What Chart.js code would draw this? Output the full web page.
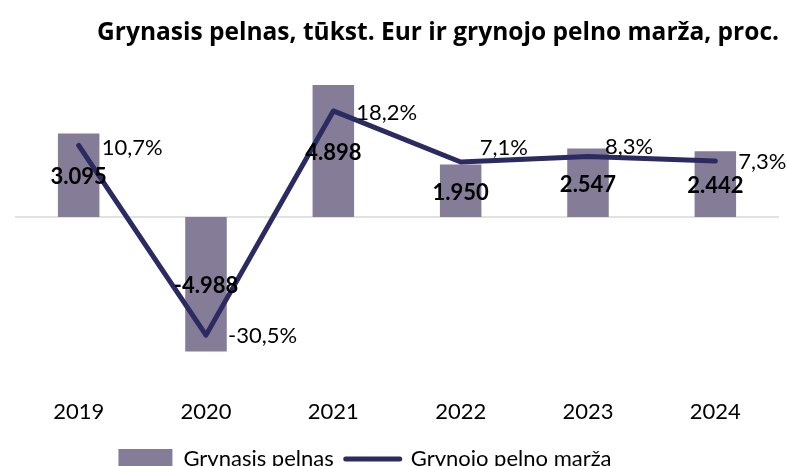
<!DOCTYPE html>
<html><head><meta charset="utf-8">
<script src="https://cdn.jsdelivr.net/npm/chart.js@4/dist/chart.umd.min.js"></script>
<style>
html,body{margin:0;padding:0;overflow:hidden;background:#fff;width:787px;height:466px}
#wrap{width:787px;height:480px;position:relative}
</style></head>
<body><div id="wrap"><canvas id="c"></canvas></div>
<script>
const categories = ['2019','2020','2021','2022','2023','2024'];
const netProfit = [3095, -4988, 4898, 1950, 2547, 2442];
const netMargin = [10.7, -30.5, 18.2, 7.1, 8.3, 7.3];
const seriesNames = ['Grynasis pelnas', 'Grynojo pelno marža'];
const titleText = 'Grynasis pelnas, tūkst. Eur ir grynojo pelno marža, proc.';

const FONT = 'Lato, "Open Sans", sans-serif';
const TITLE_FONT = '"Open Sans", Lato, sans-serif';
const barColor = '#857C97';
const lineColor = '#2B2A61';

const fmtProfit = v => (v < 0 ? '-' : '') + Math.abs(v).toString().replace(/\B(?=(\d{3})+(?!\d))/g, '.');
const fmtMargin = v => v.toFixed(1).replace('.', ',') + '%';

const zeroLine = {
  id: 'zeroLine',
  beforeDatasetsDraw(chart) {
    const {ctx, chartArea} = chart;
    const y = chart.scales.y.getPixelForValue(0);
    ctx.save();
    ctx.strokeStyle = '#D9D9D9';
    ctx.lineWidth = 1.5;
    ctx.beginPath();
    ctx.moveTo(chartArea.left, y);
    ctx.lineTo(chartArea.right, y);
    ctx.stroke();
    ctx.restore();
  }
};

const dataLabels = {
  id: 'dataLabels',
  afterDatasetsDraw(chart, args, opts) {
    const ctx = chart.ctx;
    const barMeta = chart.getDatasetMeta(0);
    const lineMeta = chart.getDatasetMeta(1);
    ctx.save();
    ctx.fillStyle = '#000';
    ctx.textBaseline = 'middle';
    ctx.font = 'normal 22px ' + FONT;
    ctx.textAlign = 'left';
    lineMeta.data.forEach((pt, i) => {
      const o = opts.lineOffsets[i];
      ctx.fillText(fmtMargin(netMargin[i]), pt.x + o[0], pt.y + o[1]);
    });
    ctx.font = 'bold 22px ' + FONT;
    ctx.textAlign = 'center';
    barMeta.data.forEach((bar, i) => {
      const mid = (bar.y + bar.base) / 2;
      ctx.fillText(fmtProfit(netProfit[i]), bar.x, mid + 2);
    });
    ctx.restore();
  }
};

const legendShift = {
  id: 'legendShift',
  afterLayout(chart, args, opts) {
    chart.legend.left += opts.dx;
    chart.legend.right += opts.dx;
  }
};

new Chart(document.getElementById('c'), {
  data: {
    labels: categories,
    datasets: [
      {
        type: 'bar', label: seriesNames[0], data: netProfit, yAxisID: 'y',
        backgroundColor: barColor, borderWidth: 0,
        categoryPercentage: 1, barPercentage: 0.326, order: 2
      },
      {
        type: 'line', label: seriesNames[1], data: netMargin, yAxisID: 'y2',
        borderColor: lineColor, backgroundColor: lineColor, borderWidth: 5,
        pointRadius: 0, tension: 0, borderCapStyle: 'round', borderJoinStyle: 'round', order: 1
      }
    ]
  },
  options: {
    responsive: true, maintainAspectRatio: false, animation: false,
    layout: {padding: {left: 15, right: 8, top: 0, bottom: 0}},
    scales: {
      x: {
        grid: {display: false, drawTicks: false}, border: {display: false},
        ticks: {color: '#000', font: {family: FONT, size: 22}, padding: 11}
      },
      y: {
        display: false, min: -6330, max: 5404
      },
      y2: {
        display: false, position: 'right', min: -41.9, max: 26.79
      }
    },
    plugins: {
      title: {
        display: true, text: titleText, align: 'end', color: '#000',
        font: {family: TITLE_FONT, size: 24.5, weight: 'bold', lineHeight: 1.2}, padding: {top: 18, bottom: 24}
      },
      legend: {
        position: 'bottom', align: 'center',
        labels: {
          color: '#000', font: {family: FONT, size: 22}, padding: 12,
          usePointStyle: true, pointStyleWidth: 54, boxHeight: 20,
          generateLabels: () => [
            {text: seriesNames[0], fillStyle: barColor, strokeStyle: barColor, lineWidth: 0, pointStyle: 'rect', datasetIndex: 0, hidden: false},
            {text: seriesNames[1], fillStyle: lineColor, strokeStyle: lineColor, lineWidth: 5, lineCap: 'round', pointStyle: 'line', datasetIndex: 1, hidden: false}
          ]
        }
      },
      tooltip: {enabled: false},
      dataLabels: {lineOffsets: [[23, 2], [22, 1], [23, 2], [19, -14], [17, -10], [23, 1]]},
      legendShift: {dx: -32}
    }
  },
  plugins: [zeroLine, dataLabels, legendShift]
});
</script>
</body></html>
